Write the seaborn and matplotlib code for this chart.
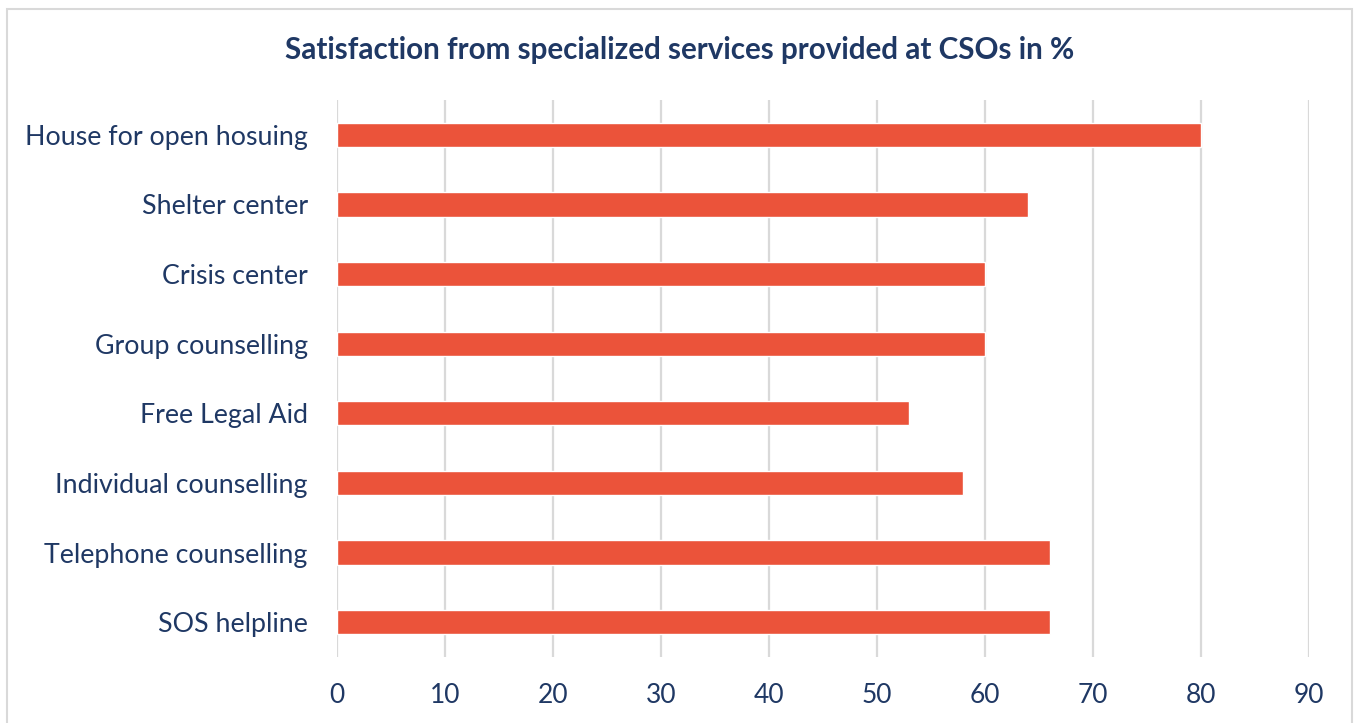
import matplotlib
matplotlib.use("Agg")
import matplotlib.pyplot as plt
import seaborn as sns
import pandas as pd
from matplotlib.patches import Rectangle

categories = ["House for open hosuing", "Shelter center", "Crisis center",
              "Group counselling", "Free Legal Aid", "Individual counselling",
              "Telephone counselling", "SOS helpline"]
values = [80, 64, 60, 60, 53, 58, 66, 66]
xticks = [0, 10, 20, 30, 40, 50, 60, 70, 80, 90]
title = "Satisfaction from specialized services provided at CSOs in %"

sns.set_theme(style="white")
plt.rcParams['font.family'] = ['Lato', 'DejaVu Sans']

navy = "#1F3864"
bar_color = "#EB533A"
grid_color = "#D9D9D9"

df = pd.DataFrame({"service": categories, "value": values})

fig = plt.figure(figsize=(13.55, 7.23), dpi=100)
W, H = 1355, 723
ax = fig.add_axes([337 / W, 1 - 657 / H, (1309 - 337) / W, (657 - 100) / H])

sns.barplot(data=df, x="value", y="service", orient="h", color=bar_color,
            width=0.35, ax=ax, saturation=1)

ax.set_xlim(0, 90)
ax.set_ylim(7.5, -0.5)
ax.set_xticks(xticks)
ax.set_xticklabels([str(t) for t in xticks])
ax.xaxis.grid(True, color=grid_color, linewidth=1.6)
ax.set_axisbelow(True)
for s in ax.spines.values():
    s.set_visible(False)
ax.set_xlabel("")
ax.set_ylabel("")
ax.tick_params(axis="x", length=0, pad=19, labelsize=19, colors=navy)
ax.tick_params(axis="y", length=0, pad=21, labelsize=19.3, colors=navy)

fig.text(680 / W, 1 - 50 / H, title, ha="center", va="center",
         fontsize=21.3, fontweight="bold", color=navy)

fig.patches.append(Rectangle((7 / W, -0.05), (1352 - 7) / W, 1.05 - 9 / H,
                             transform=fig.transFigure, fill=False,
                             edgecolor="#D9D9D9", linewidth=1.5))

fig.savefig("out.png", dpi=100)
